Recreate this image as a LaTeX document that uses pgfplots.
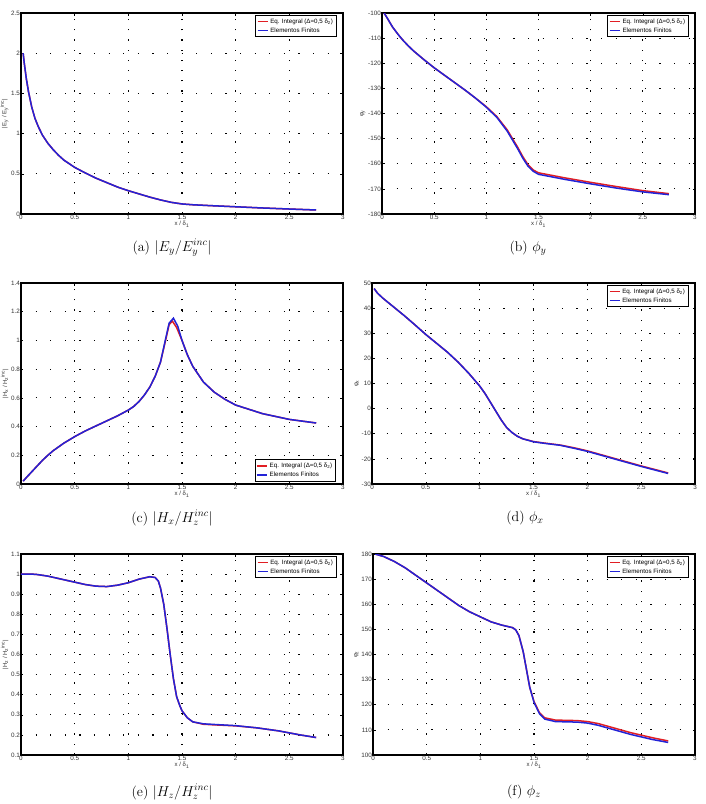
\documentclass[border=0pt]{standalone}
\usepackage{fontspec}
\usepackage{pgfplots}
\pgfplotsset{compat=1.18}
\newfontfamily\hv{Liberation Sans}
\definecolor{matred}{RGB}{225,30,35}
\definecolor{matblue}{RGB}{35,35,215}
\pgfplotsset{
 base/.style={
  scale only axis, xmin=0, xmax=3, xtick={0,0.5,1,1.5,2,2.5,3},
  axis line style={line width=1.2pt},
  tick align=inside, major tick length=2.5pt, tick style={black, line width=0.6pt},
  xmajorgrids, ymajorgrids,
  x grid style={black, line width=1.2pt, dash pattern=on 1.2pt off 9pt},
  y grid style={black, line width=1.2pt, dash pattern=on 1.2pt off 13.4pt},
  /pgf/number format/assume math mode=true,
  tick label style={font=\hv\fontsize{6.3}{7}\selectfont, inner sep=1pt, text=black!80},
  label style={font=\hv\fontsize{6}{7}\selectfont, text=black!80},
  xlabel={x / δ\textsubscript{1}},
  xlabel style={inner sep=0.5pt},
  ylabel style={yshift=1pt, inner sep=0.5pt},
  legend cell align=left,
  legend style={font=\hv\fontsize{6.2}{7}\selectfont, draw=black, line width=0.8pt, inner sep=1.2pt, row sep=-1pt},
  legend image code/.code={\draw[#1, line width=1.6pt, solid] (0pt,0.3pt) -- (10pt,0.3pt);},
 },
 topleg/.style={legend style={at={(0.98,0.99)}, anchor=north east}},
 redl/.style={matred, line width=1.5pt},
 bluel/.style={matblue, line width=1.5pt},
}
\begin{document}
\begin{tikzpicture}
\path[use as bounding box] (0pt,0pt) rectangle (705pt,-804pt);
% (a)
\begin{axis}[base, topleg, at={(21pt,-214pt)}, anchor=south west, width=322pt, height=201pt,
  ymin=0, ymax=2.5, ytick={0,0.5,1,1.5,2,2.5},
  ylabel={|E\textsubscript{y} / E\textsubscript{y}\textsuperscript{inc}|}]
\addplot[redl] coordinates {(0.02,2.0) (0.03,1.88) (0.05,1.68) (0.07,1.52) (0.1,1.33) (0.13,1.19) (0.16,1.09) (0.2,0.98) (0.25,0.88) (0.3,0.80) (0.35,0.73) (0.4,0.67) (0.5,0.58) (0.6,0.51) (0.7,0.445) (0.8,0.39) (0.9,0.335) (1.0,0.29) (1.1,0.25) (1.2,0.21) (1.3,0.175) (1.4,0.145) (1.5,0.125) (1.6,0.115) (1.75,0.105) (2.0,0.09) (2.25,0.075) (2.5,0.062) (2.75,0.05)};
\addlegendentry{Eq. Integral (Δ=0,5 δ\textsubscript{2})}
\addplot[bluel] coordinates {(0.02,2.0) (0.03,1.88) (0.05,1.68) (0.07,1.52) (0.1,1.33) (0.13,1.19) (0.16,1.09) (0.2,0.98) (0.25,0.88) (0.3,0.80) (0.35,0.73) (0.4,0.67) (0.5,0.58) (0.6,0.51) (0.7,0.445) (0.8,0.39) (0.9,0.335) (1.0,0.29) (1.1,0.25) (1.2,0.21) (1.3,0.175) (1.4,0.145) (1.5,0.125) (1.6,0.115) (1.75,0.105) (2.0,0.09) (2.25,0.075) (2.5,0.062) (2.75,0.05)};
\addlegendentry{Elementos Finitos}
\end{axis}
% (b)
\begin{axis}[base, topleg, at={(382pt,-214pt)}, anchor=south west, width=313pt, height=201pt,
  ymin=-180, ymax=-100, ytick={-180,-170,...,-100},
  ylabel={φ\textsubscript{y}}]
\addplot[redl] coordinates {(0.02,-100) (0.05,-102) (0.1,-105.5) (0.15,-108.3) (0.2,-110.8) (0.25,-113) (0.3,-115) (0.4,-118.5) (0.5,-121.8) (0.6,-124.8) (0.7,-127.8) (0.8,-130.8) (0.9,-134) (1.0,-137.3) (1.1,-141.2) (1.2,-146.5) (1.3,-153.4) (1.35,-157.2) (1.4,-160.4) (1.45,-162.5) (1.5,-163.6) (1.6,-164.4) (1.75,-165.6) (2.0,-167.4) (2.25,-169.1) (2.5,-170.7) (2.75,-171.9)};
\addlegendentry{Eq. Integral (Δ=0,5 δ\textsubscript{2})}
\addplot[bluel] coordinates {(0.02,-100) (0.05,-102) (0.1,-105.5) (0.15,-108.3) (0.2,-110.8) (0.25,-113) (0.3,-115) (0.4,-118.5) (0.5,-121.8) (0.6,-124.8) (0.7,-127.8) (0.8,-130.8) (0.9,-134) (1.0,-137.5) (1.1,-141.5) (1.2,-147) (1.3,-154) (1.35,-157.8) (1.4,-161) (1.45,-163) (1.5,-164.2) (1.6,-165) (1.75,-166.2) (2.0,-168) (2.25,-169.7) (2.5,-171.2) (2.75,-172.3)};
\addlegendentry{Elementos Finitos}
\end{axis}
% (c)
\begin{axis}[base, at={(21pt,-484pt)}, anchor=south west, width=322pt, height=201pt,
  legend style={at={(0.978,0.012)}, anchor=south east},
  ymin=0, ymax=1.4, ytick={0,0.2,0.4,0.6,0.8,1,1.2,1.4},
  ylabel={|H\textsubscript{x} / H\textsubscript{z}\textsuperscript{inc}|}]
\addplot[redl] coordinates {(0.02,0.02) (0.05,0.045) (0.1,0.085) (0.15,0.125) (0.2,0.165) (0.25,0.2) (0.3,0.232) (0.4,0.285) (0.5,0.33) (0.6,0.37) (0.7,0.405) (0.8,0.44) (0.9,0.475) (1.0,0.515) (1.05,0.54) (1.1,0.575) (1.15,0.62) (1.2,0.675) (1.25,0.75) (1.3,0.85) (1.35,1.01) (1.38,1.11) (1.41,1.135) (1.45,1.09) (1.5,1.0) (1.55,0.9) (1.6,0.82) (1.7,0.71) (1.8,0.64) (1.9,0.59) (2.0,0.55) (2.25,0.49) (2.5,0.45) (2.75,0.425)};
\addlegendentry{Eq. Integral (Δ=0,5 δ\textsubscript{2})}
\addplot[bluel] coordinates {(0.02,0.02) (0.05,0.045) (0.1,0.085) (0.15,0.125) (0.2,0.165) (0.25,0.2) (0.3,0.232) (0.4,0.285) (0.5,0.33) (0.6,0.37) (0.7,0.405) (0.8,0.44) (0.9,0.475) (1.0,0.515) (1.05,0.54) (1.1,0.575) (1.15,0.62) (1.2,0.675) (1.25,0.75) (1.3,0.85) (1.35,1.02) (1.38,1.12) (1.42,1.155) (1.46,1.1) (1.5,1.0) (1.55,0.9) (1.6,0.82) (1.7,0.71) (1.8,0.64) (1.9,0.59) (2.0,0.55) (2.25,0.49) (2.5,0.45) (2.75,0.425)};
\addlegendentry{Elementos Finitos}
\end{axis}
% (d)
\begin{axis}[base, topleg, at={(372pt,-484pt)}, anchor=south west, width=323pt, height=201pt,
  ymin=-30, ymax=50, ytick={-30,-20,...,50},
  ylabel={φ\textsubscript{x}}]
\addplot[redl] coordinates {(0.02,47.8) (0.05,46) (0.1,44) (0.2,40.5) (0.3,37) (0.4,33.3) (0.5,29.5) (0.6,26) (0.7,22.5) (0.8,18.5) (0.9,14) (1.0,9) (1.05,6) (1.1,2.5) (1.15,-1) (1.2,-4.5) (1.25,-7.5) (1.3,-9.5) (1.35,-11) (1.4,-12) (1.5,-13.1) (1.6,-13.7) (1.75,-14.5) (1.9,-15.8) (2.0,-16.8) (2.25,-19.8) (2.5,-22.8) (2.75,-25.6)};
\addlegendentry{Eq. Integral (Δ=0,5 δ\textsubscript{2})}
\addplot[bluel] coordinates {(0.02,47.8) (0.05,46) (0.1,44) (0.2,40.5) (0.3,37) (0.4,33.3) (0.5,29.5) (0.6,26) (0.7,22.5) (0.8,18.5) (0.9,14) (1.0,9) (1.05,6) (1.1,2.5) (1.15,-1) (1.2,-4.5) (1.25,-7.5) (1.3,-9.5) (1.35,-11) (1.4,-12) (1.5,-13.2) (1.6,-13.8) (1.75,-14.6) (1.9,-16) (2.0,-17) (2.25,-20) (2.5,-23) (2.75,-25.8)};
\addlegendentry{Elementos Finitos}
\end{axis}
% (e)
\begin{axis}[base, topleg, at={(21pt,-755pt)}, anchor=south west, width=322pt, height=201pt,
  ymin=0.1, ymax=1.1, ytick={0.1,0.2,0.3,0.4,0.5,0.6,0.7,0.8,0.9,1,1.1},
  ylabel={|H\textsubscript{z} / H\textsubscript{z}\textsuperscript{inc}|}]
\addplot[redl] coordinates {(0.0,1.0) (0.1,1.0) (0.15,0.998) (0.25,0.99) (0.35,0.978) (0.5,0.96) (0.6,0.948) (0.7,0.94) (0.8,0.938) (0.9,0.945) (1.0,0.957) (1.1,0.975) (1.2,0.987) (1.25,0.983) (1.28,0.965) (1.3,0.93) (1.33,0.85) (1.36,0.73) (1.39,0.6) (1.42,0.48) (1.45,0.39) (1.48,0.345) (1.5,0.32) (1.55,0.285) (1.6,0.265) (1.7,0.253) (1.8,0.25) (2.0,0.245) (2.2,0.235) (2.4,0.22) (2.5,0.21) (2.6,0.2) (2.75,0.187)};
\addlegendentry{Eq. Integral (Δ=0,5 δ\textsubscript{2})}
\addplot[bluel] coordinates {(0.0,1.0) (0.1,1.0) (0.15,0.998) (0.25,0.99) (0.35,0.978) (0.5,0.96) (0.6,0.948) (0.7,0.94) (0.8,0.938) (0.9,0.945) (1.0,0.957) (1.1,0.975) (1.2,0.987) (1.25,0.983) (1.28,0.965) (1.3,0.93) (1.33,0.85) (1.36,0.73) (1.39,0.6) (1.42,0.48) (1.45,0.39) (1.48,0.345) (1.5,0.32) (1.55,0.285) (1.6,0.265) (1.7,0.255) (1.8,0.252) (2.0,0.246) (2.2,0.235) (2.4,0.22) (2.5,0.21) (2.6,0.2) (2.75,0.187)};
\addlegendentry{Elementos Finitos}
\end{axis}
% (f)
\begin{axis}[base, topleg, at={(373pt,-755pt)}, anchor=south west, width=322pt, height=201pt,
  ymin=100, ymax=180, ytick={100,110,...,180},
  ylabel={φ\textsubscript{z}}]
\addplot[redl] coordinates {(0.02,180) (0.1,179) (0.2,177) (0.3,174.5) (0.4,171.5) (0.5,168.5) (0.6,165.5) (0.7,162.5) (0.8,159.5) (0.9,157) (1.0,155) (1.1,153) (1.2,151.7) (1.3,150.7) (1.33,149.8) (1.36,147.5) (1.4,141) (1.43,134) (1.46,127) (1.5,121.3) (1.55,116.9) (1.6,114.8) (1.7,113.9) (1.8,113.8) (1.9,113.7) (2.0,113.3) (2.1,112.5) (2.25,110.7) (2.4,108.9) (2.5,107.9) (2.6,106.9) (2.75,105.6)};
\addlegendentry{Eq. Integral (Δ=0,5 δ\textsubscript{2})}
\addplot[bluel] coordinates {(0.02,180) (0.1,179) (0.2,177) (0.3,174.5) (0.4,171.5) (0.5,168.5) (0.6,165.5) (0.7,162.5) (0.8,159.5) (0.9,157) (1.0,155) (1.1,153) (1.2,151.7) (1.3,150.7) (1.33,149.8) (1.36,147.5) (1.4,141) (1.43,134) (1.46,127) (1.5,121) (1.55,116.5) (1.6,114.3) (1.7,113.3) (1.8,113.2) (1.9,113.1) (2.0,112.7) (2.1,111.8) (2.25,110) (2.4,108.2) (2.5,107.2) (2.6,106.2) (2.75,105)};
\addlegendentry{Elementos Finitos}
\end{axis}
% captions
\begin{scope}[every node/.style={font=\fontsize{14}{16}\selectfont}]
\node at (172pt,-248pt) {(a) $|E_y/E_y^{inc}|$};
\node at (528pt,-248pt) {(b) $\phi_y$};
\node at (172pt,-518pt) {(c) $|H_x/H_z^{inc}|$};
\node at (525pt,-518pt) {(d) $\phi_x$};
\node at (172pt,-792pt) {(e) $|H_z/H_z^{inc}|$};
\node at (524pt,-792pt) {(f) $\phi_z$};
\end{scope}
\end{tikzpicture}
\end{document}
